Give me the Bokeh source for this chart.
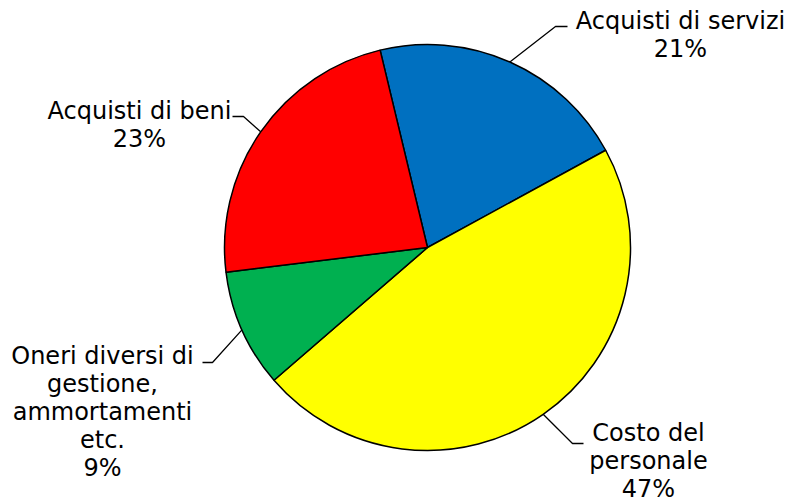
import math
from bokeh.plotting import figure
from bokeh.models import Range1d
from bokeh.core.properties import value
from bokeh.embed import file_html
from bokeh.resources import INLINE

# Data (clockwise order starting from the red/blue boundary near the top)
categories = ["Acquisti di servizi", "Costo del personale",
              "Oneri diversi di gestione, ammortamenti etc.", "Acquisti di beni"]
label_lines = [["Acquisti di servizi"], ["Costo del", "personale"],
               ["Oneri diversi di", "gestione,", "ammortamenti", "etc."],
               ["Acquisti di beni"]]
values = [20.8, 46.6, 9.4, 23.2]
colors = ["#0070C0", "#FFFF00", "#00B050", "#FF0000"]

W, H = 789, 504
CX, CY, R = 427, 247, 203   # pixel coords (y down)
START = -13.5               # degrees clockwise from 12 o'clock
FONT = "DejaVu Sans"
FS = "24px"
LH = 28

def Y(ypx):
    return H - ypx

p = figure(width=W, height=H, x_range=Range1d(0, W), y_range=Range1d(0, H),
           output_backend="svg", toolbar_location=None,
           x_axis_type=None, y_axis_type=None, min_border=0)
p.grid.visible = False
p.outline_line_color = None
p.background_fill_color = "white"
p.border_fill_color = "white"

total = sum(values)
theta = START
mids = []
for v, c in zip(values, colors):
    span = v / total * 360.0
    t0, t1 = theta, theta + span
    p.wedge(x=CX, y=Y(CY), radius=R,
            start_angle=math.radians(90 - t0), end_angle=math.radians(90 - t1),
            direction="clock", fill_color=c, line_color="black", line_width=1.5)
    mids.append((t0 + t1) / 2)
    theta = t1

# label layout (pixel coords): center x, first-line y, elbow point, end point
layout = [
    dict(x=680, y=20, elbow=(555, 26), end=(567, 26)),
    dict(x=648, y=432, elbow=(572, 443), end=(583, 443)),
    dict(x=102, y=355, elbow=(212, 362), end=(202, 362)),
    dict(x=139, y=110, elbow=(243, 116), end=(232, 116)),
]

for lines, v, m, L in zip(label_lines, values, mids, layout):
    a = math.radians(m)
    sx = CX + R * math.sin(a)
    sy = CY - R * math.cos(a)
    p.line(x=[sx, L["elbow"][0], L["end"][0]],
           y=[Y(sy), Y(L["elbow"][1]), Y(L["end"][1])],
           line_color="black", line_width=1.3)
    txt = lines + [f"{round(v)}%"]
    for i, t in enumerate(txt):
        p.text(x=[L["x"]], y=[Y(L["y"] + i * LH)], text=[t],
               text_font=value(FONT), text_font_size=FS, text_color="black",
               text_align="center", text_baseline="middle")

open("out.html", "w").write(file_html(p, INLINE))
